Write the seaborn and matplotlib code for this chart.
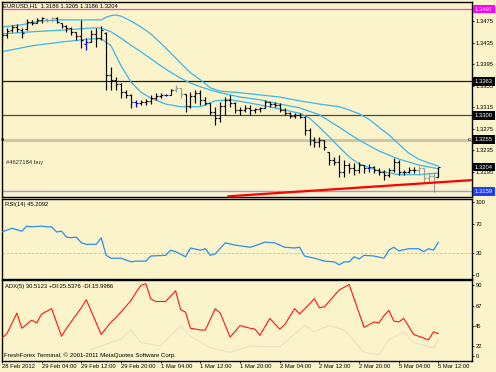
import matplotlib
matplotlib.use("Agg")
import matplotlib.pyplot as plt
import numpy as np
import pandas as pd
import seaborn as sns

# ---------------- data ----------------
title_main = "EURUSD,H1  1.3186 1.3205 1.3186 1.3204"
title_rsi = "RSI(14) 45.2092"
title_adx = "ADX(5) 30.5123 +DI:25.5376 -DI:15.9986"
copyright_txt = "FreshForex Terminal, \u00a9 2001-2011 MetaQuotes Software Corp."
order_txt = "#4627184 buy"

bar_high = [1.3464, 1.3462, 1.3468, 1.3469, 1.3462, 1.3479, 1.3477, 1.3481, 1.3482, 1.3481,
            1.3482, 1.3482, 1.3471, 1.3468, 1.3464, 1.3455, 1.3477, 1.3443, 1.3458, 1.3462,
            1.3466, 1.3455, 1.3390, 1.3371, 1.3360, 1.3347, 1.3340, 1.3329, 1.3329, 1.3330,
            1.3338, 1.3342, 1.3342, 1.3340, 1.3349, 1.3356, 1.3351, 1.3340, 1.3343, 1.3347,
            1.3347, 1.3334, 1.3323, 1.3316, 1.3325, 1.3334, 1.3338, 1.3325, 1.3316, 1.3319,
            1.3319, 1.3314, 1.3316, 1.3329, 1.3325, 1.3325, 1.3323, 1.3314, 1.3306, 1.3304,
            1.3304, 1.3299, 1.3277, 1.3260, 1.3260, 1.3254, 1.3232, 1.3223, 1.3227, 1.3217,
            1.3212, 1.3212, 1.3214, 1.3208, 1.3210, 1.3206, 1.3203, 1.3199, 1.3203, 1.3221,
            1.3217, 1.3199, 1.3204, 1.3204, 1.3206, 1.3203, 1.3195, 1.3195, 1.3205]
bar_low = [1.3434, 1.3443, 1.3455, 1.3455, 1.3443, 1.3458, 1.3468, 1.3471, 1.3471, 1.3473,
           1.3473, 1.3471, 1.3462, 1.3455, 1.3449, 1.3440, 1.3425, 1.3421, 1.3436, 1.3427,
           1.3440, 1.3347, 1.3347, 1.3347, 1.3332, 1.3332, 1.3314, 1.3316, 1.3319, 1.3319,
           1.3321, 1.3329, 1.3332, 1.3336, 1.3338, 1.3343, 1.3332, 1.3306, 1.3314, 1.3323,
           1.3319, 1.3319, 1.3301, 1.3282, 1.3288, 1.3301, 1.3316, 1.3304, 1.3301, 1.3306,
           1.3301, 1.3304, 1.3306, 1.3314, 1.3316, 1.3316, 1.3306, 1.3301, 1.3295, 1.3295,
           1.3295, 1.3264, 1.3245, 1.3241, 1.3241, 1.3236, 1.3208, 1.3208, 1.3186, 1.3186,
           1.3193, 1.3190, 1.3193, 1.3193, 1.3195, 1.3193, 1.3190, 1.3180, 1.3186, 1.3195,
           1.3190, 1.3190, 1.3193, 1.3193, 1.3190, 1.3177, 1.3177, 1.3158, 1.3186]
bar_open = [1.3458, 1.3449, 1.3458, 1.3464, 1.3458, 1.3460, 1.3473, 1.3471, 1.3477, 1.3479,
            1.3477, 1.3481, 1.3471, 1.3466, 1.3462, 1.3455, 1.3447, 1.3432, 1.3436, 1.3451,
            1.3443, 1.3453, 1.3375, 1.3366, 1.3358, 1.3343, 1.3338, 1.3325, 1.3323, 1.3325,
            1.3327, 1.3332, 1.3336, 1.3338, 1.3338, 1.3347, 1.3351, 1.3340, 1.3317, 1.3336,
            1.3342, 1.3329, 1.3323, 1.3306, 1.3295, 1.3317, 1.3329, 1.3323, 1.3310, 1.3310,
            1.3314, 1.3310, 1.3312, 1.3314, 1.3325, 1.3321, 1.3319, 1.3310, 1.3304, 1.3299,
            1.3301, 1.3297, 1.3273, 1.3254, 1.3251, 1.3254, 1.3232, 1.3217, 1.3214, 1.3195,
            1.3208, 1.3203, 1.3199, 1.3208, 1.3203, 1.3204, 1.3199, 1.3195, 1.3190, 1.3199,
            1.3214, 1.3195, 1.3195, 1.3199, 1.3199, 1.3203, 1.3184, 1.3188, 1.3186]
bar_close = [1.3449, 1.3456, 1.3464, 1.3460, 1.3453, 1.3473, 1.3471, 1.3477, 1.3481, 1.3477,
             1.3481, 1.3473, 1.3466, 1.3462, 1.3455, 1.3447, 1.3440, 1.3436, 1.3451, 1.3443,
             1.3458, 1.3375, 1.3366, 1.3358, 1.3343, 1.3338, 1.3325, 1.3323, 1.3325, 1.3327,
             1.3332, 1.3336, 1.3338, 1.3338, 1.3347, 1.3351, 1.3340, 1.3317, 1.3336, 1.3342,
             1.3329, 1.3323, 1.3306, 1.3295, 1.3317, 1.3329, 1.3323, 1.3310, 1.3310, 1.3314,
             1.3310, 1.3312, 1.3314, 1.3325, 1.3321, 1.3319, 1.3310, 1.3304, 1.3299, 1.3301,
             1.3297, 1.3273, 1.3254, 1.3251, 1.3254, 1.3241, 1.3217, 1.3214, 1.3195, 1.3208,
             1.3203, 1.3199, 1.3208, 1.3203, 1.3204, 1.3199, 1.3195, 1.3190, 1.3199, 1.3214,
             1.3195, 1.3195, 1.3199, 1.3199, 1.3203, 1.3184, 1.3188, 1.3186, 1.3204]
blue_bars = [17, 27, 33, 74]
gray_bars = [9, 10, 35, 36, 84, 85, 86, 87]

upper_idx = [0, 4, 8, 12, 16, 20, 21, 22, 23, 24, 26, 28, 30, 32, 34, 36, 38, 40, 42, 44,
             48, 52, 56, 60, 64, 68, 70, 72, 74, 76, 78, 80, 82, 84, 86, 88]
upper_val = [1.3464, 1.3468, 1.3475, 1.3477, 1.3477, 1.3477, 1.3482, 1.3485, 1.3486, 1.3484,
             1.3475, 1.3464, 1.3451, 1.3434, 1.3416, 1.3397, 1.3379, 1.3366, 1.3351, 1.3345,
             1.3342, 1.3338, 1.3334, 1.3327, 1.3321, 1.3316, 1.3310, 1.3303, 1.3293, 1.3278,
             1.3264, 1.3247, 1.3230, 1.3219, 1.3212, 1.3206]
middle_idx = [0, 6, 12, 18, 20, 22, 24, 26, 28, 30, 32, 34, 36, 38, 40, 42, 44, 48, 52, 56,
              60, 64, 68, 72, 76, 80, 84, 88]
middle_val = [1.3451, 1.3455, 1.3458, 1.3462, 1.3462, 1.3455, 1.3443, 1.3430, 1.3418, 1.3405,
              1.3392, 1.3380, 1.3369, 1.3360, 1.3353, 1.3347, 1.3342, 1.3334, 1.3329, 1.3321,
              1.3314, 1.3301, 1.3278, 1.3254, 1.3234, 1.3219, 1.3208, 1.3201]
lower_idx = [0, 6, 12, 18, 20, 22, 24, 26, 28, 30, 33, 36, 40, 43, 46, 50, 56, 60, 62, 64,
             66, 68, 70, 72, 76, 80, 84, 88]
lower_val = [1.3418, 1.3429, 1.3436, 1.3442, 1.3442, 1.3429, 1.3392, 1.3362, 1.3343, 1.3332,
             1.3321, 1.3316, 1.3316, 1.3327, 1.3329, 1.3323, 1.3312, 1.3304, 1.3295, 1.3278,
             1.3260, 1.3241, 1.3223, 1.3210, 1.3197, 1.3190, 1.3190, 1.3193]

trend_idx = [45.6, 94.7]
trend_val = [1.3150, 1.3180]

level_magenta = 1.3497
level_black = 1.3363
level_gray = 1.3300
level_order = 1.3255
level_bid = 1.3204
level_blue = 1.3159

price_ticks = [1.3475, 1.3435, 1.3395, 1.3355, 1.3315, 1.3275, 1.3235, 1.3195]

rsi_idx = [0, 2, 3, 4, 5, 6, 8, 9, 10, 11, 12, 13, 14, 15, 16, 17, 19, 20, 21, 22,
           24, 26, 27, 29, 30, 33, 34, 35, 37, 38, 40, 41, 42, 43, 45, 47, 48, 50, 51, 53,
           55, 57, 59, 60, 61, 63, 65, 67, 68, 69, 70, 71, 72, 73, 75, 77, 78, 79, 80, 82,
           84, 85, 86, 87, 88]
rsi_val = [59, 64, 62, 60, 67, 66, 67, 66, 66, 59, 60, 52, 51, 52, 44, 42, 42, 51, 27, 23,
           23, 18, 19, 19, 26, 27, 34, 32, 25, 37, 34, 36, 27, 29, 44, 41, 40, 38, 40, 45,
           44, 38, 37, 38, 26, 23, 19, 18, 14, 18, 18, 25, 22, 27, 26, 23, 34, 38, 33, 36,
           36, 32, 36, 34, 45]
rsi_level = 30
rsi_ticks = [100, 70, 30, 0]

adx_idx = [0, 1, 3, 4, 6, 7, 8, 10, 12, 13, 16, 17, 20, 22, 23, 26, 27, 28, 29, 30,
           31, 33, 35, 36, 37, 38, 40, 41, 43, 44, 46, 48, 50, 51, 52, 54, 56, 57, 59, 60,
           63, 64, 65, 68, 70, 73, 75, 76, 77, 78, 79, 80, 81, 83, 84, 86, 87, 88]
adx_val = [31, 36, 59, 42, 51, 48, 58, 64, 33, 42, 65, 74, 35, 49, 54, 73, 82, 90, 92, 75,
           72, 72, 84, 63, 60, 42, 40, 40, 64, 59, 32, 45, 42, 41, 34, 53, 41, 46, 64, 58,
           75, 65, 66, 85, 91, 43, 49, 48, 56, 62, 50, 49, 53, 35, 33, 29, 38, 36]
di_idx = [18, 24, 26, 28, 32, 36, 38, 42, 46, 50, 56, 61, 63, 66, 69, 73, 76, 78, 81, 83, 87, 88]
di_val = [18, 30, 40, 26, 22, 45, 33, 20, 15, 22, 21, 45, 38, 45, 40, 15, 12, 29, 38, 26, 20, 29]
adx_ticks = [90, 67, 45, 22, 10.8]
adx_tick_labels = ["90", "67", "45", "22", "0"]

time_idx = [0, 8, 16, 24, 32, 40, 48, 56, 64, 72, 80, 88]
time_labels = ["28 Feb 2012", "29 Feb 04:00", "29 Feb 12:00", "29 Feb 20:00", "1 Mar 04:00",
               "1 Mar 12:00", "1 Mar 20:00", "2 Mar 04:00", "2 Mar 12:00", "2 Mar 20:00",
               "5 Mar 04:00", "5 Mar 12:00"]

# ---------------- style ----------------
BG = "#FBF4CB"
sns.set_style("white", {"axes.facecolor": BG, "figure.facecolor": BG,
                        "axes.edgecolor": "black"})
plt.rcParams["font.family"] = ["Liberation Sans Narrow", "Liberation Sans", "DejaVu Sans"]
plt.rcParams["axes.linewidth"] = 1.0
FS = 4.2

W, H = 496, 372
fig = plt.figure(figsize=(W / 100, H / 100), dpi=100)
fig.patch.set_facecolor(BG)


def rect(x0, y0, x1, y1):
    return [x0 / W, 1 - y1 / H, (x1 - x0) / W, (y1 - y0) / H]


ax_p = fig.add_axes(rect(1.5, 2, 471.5, 197))
ax_r = fig.add_axes(rect(1.5, 198.5, 471.5, 278.5))
ax_a = fig.add_axes(rect(1.5, 279.5, 471.5, 361))

XLIM = (-0.1, 94.66)
for ax in (ax_p, ax_r, ax_a):
    ax.set_facecolor(BG)
    ax.set_xlim(*XLIM)
    ax.yaxis.tick_right()
    ax.tick_params(axis="y", which="both", right=True, left=False, length=1.5,
                   width=0.6, pad=1.2, labelsize=FS, colors="black", direction="out")
    for s in ax.spines.values():
        s.set_color("black")
        s.set_linewidth(1.0)

# ---------------- price panel ----------------
idx = np.arange(len(bar_high))
cols = ["#0000FF" if i in blue_bars else ("#9A9A9A" if i in gray_bars else "#000000")
        for i in idx]
ax_p.axhline(level_order, color="#CEC6A6", lw=2.2, zorder=1)
ax_p.axhline(level_magenta, color="#F040E0", lw=0.9, zorder=1)
ax_p.axhline(level_black, color="#1A1A1A", lw=0.9, zorder=1)
ax_p.axhline(level_gray, color="#4A4A4A", lw=0.9, zorder=1)
ax_p.axhline(level_blue, color="#9A9AF0", lw=1.0, zorder=1)

for bi, bv in ((upper_idx, upper_val), (middle_idx, middle_val), (lower_idx, lower_val)):
    sns.lineplot(x=bi, y=bv, ax=ax_p, color="#3AB5EE", lw=0.9, estimator=None,
                 sort=False, zorder=2)

ax_p.vlines(idx, bar_low, bar_high, colors=cols, lw=0.85, zorder=3)
ax_p.hlines(bar_open, idx - 0.4, idx, colors=cols, lw=0.85, zorder=3)
ax_p.hlines(bar_close, idx, idx + 0.4, colors=cols, lw=0.85, zorder=3)

sns.lineplot(x=trend_idx, y=trend_val, ax=ax_p, color="#FF0000", lw=1.6,
             estimator=None, sort=False, zorder=4)

ax_p.set_ylim(1.31487, 1.35102)
ax_p.set_yticks(price_ticks)
ax_p.set_yticklabels([f"{v:.4f}" for v in price_ticks])
ax_p.set_xticks([])
ax_p.set_xlabel("")
ax_p.set_ylabel("")

for val, fc in ((level_magenta, "#FF00FF"), (level_black, "#000000"),
                (level_gray, "#000000"), (level_order, "#000000"),
                (level_bid, "#000000"), (level_blue, "#1E3CFF")):
    ax_p.annotate(f"{val:.4f}", xy=(1, val), xycoords=("axes fraction", "data"),
                  xytext=(2.4, 0), textcoords="offset points", va="center", ha="left",
                  fontsize=FS, color="white", annotation_clip=False, zorder=10,
                  bbox=dict(boxstyle="square,pad=0.3", fc=fc, ec="none"))


def ftxt(x, y, s, size=FS, **kw):
    fig.text(x / W, 1 - y / H, s, va="center", ha="left", fontsize=size, **kw)


ftxt(3, 6, title_main, color="black")
ftxt(6, 162, order_txt, color="#303030")
ftxt(1.0, 139.5, "o", color="black")
ftxt(467.5, 139.5, "c", color="black")

# ---------------- RSI panel ----------------
ax_r.axhline(rsi_level, color="#BDBDBD", lw=0.6, ls=(0, (3, 2)), zorder=1)
sns.lineplot(x=rsi_idx, y=rsi_val, ax=ax_r, color="#2A8EF0", lw=0.9, estimator=None,
             sort=False, zorder=3)
ax_r.set_ylim(-4.8, 104.8)
ax_r.set_yticks(rsi_ticks)
ax_r.set_yticklabels([str(v) for v in rsi_ticks])
ax_r.set_xticks([])
ax_r.set_xlabel("")
ax_r.set_ylabel("")
ftxt(5, 204.5, title_rsi, color="black")

# ---------------- ADX panel ----------------
sns.lineplot(x=di_idx, y=di_val, ax=ax_a, color="#F3DCC2", lw=0.8, estimator=None,
             sort=False, zorder=2)
sns.lineplot(x=adx_idx, y=adx_val, ax=ax_a, color="#FF1414", lw=0.8, estimator=None,
             sort=False, zorder=3)
ax_a.set_ylim(5.2, 96.7)
ax_a.set_yticks(adx_ticks)
ax_a.set_yticklabels(adx_tick_labels)
ax_a.set_xticks(time_idx)
ax_a.set_xticklabels(time_labels, ha="left")
ax_a.tick_params(axis="x", bottom=True, length=1.5, width=0.6, pad=0.8,
                 labelsize=FS, colors="black", direction="out")
ax_a.set_xlabel("")
ax_a.set_ylabel("")
ftxt(5, 286.5, title_adx, color="black")
ftxt(4, 355.5, copyright_txt, size=4.4, color="black")

fig.savefig("out.png", dpi=100, facecolor=BG)
